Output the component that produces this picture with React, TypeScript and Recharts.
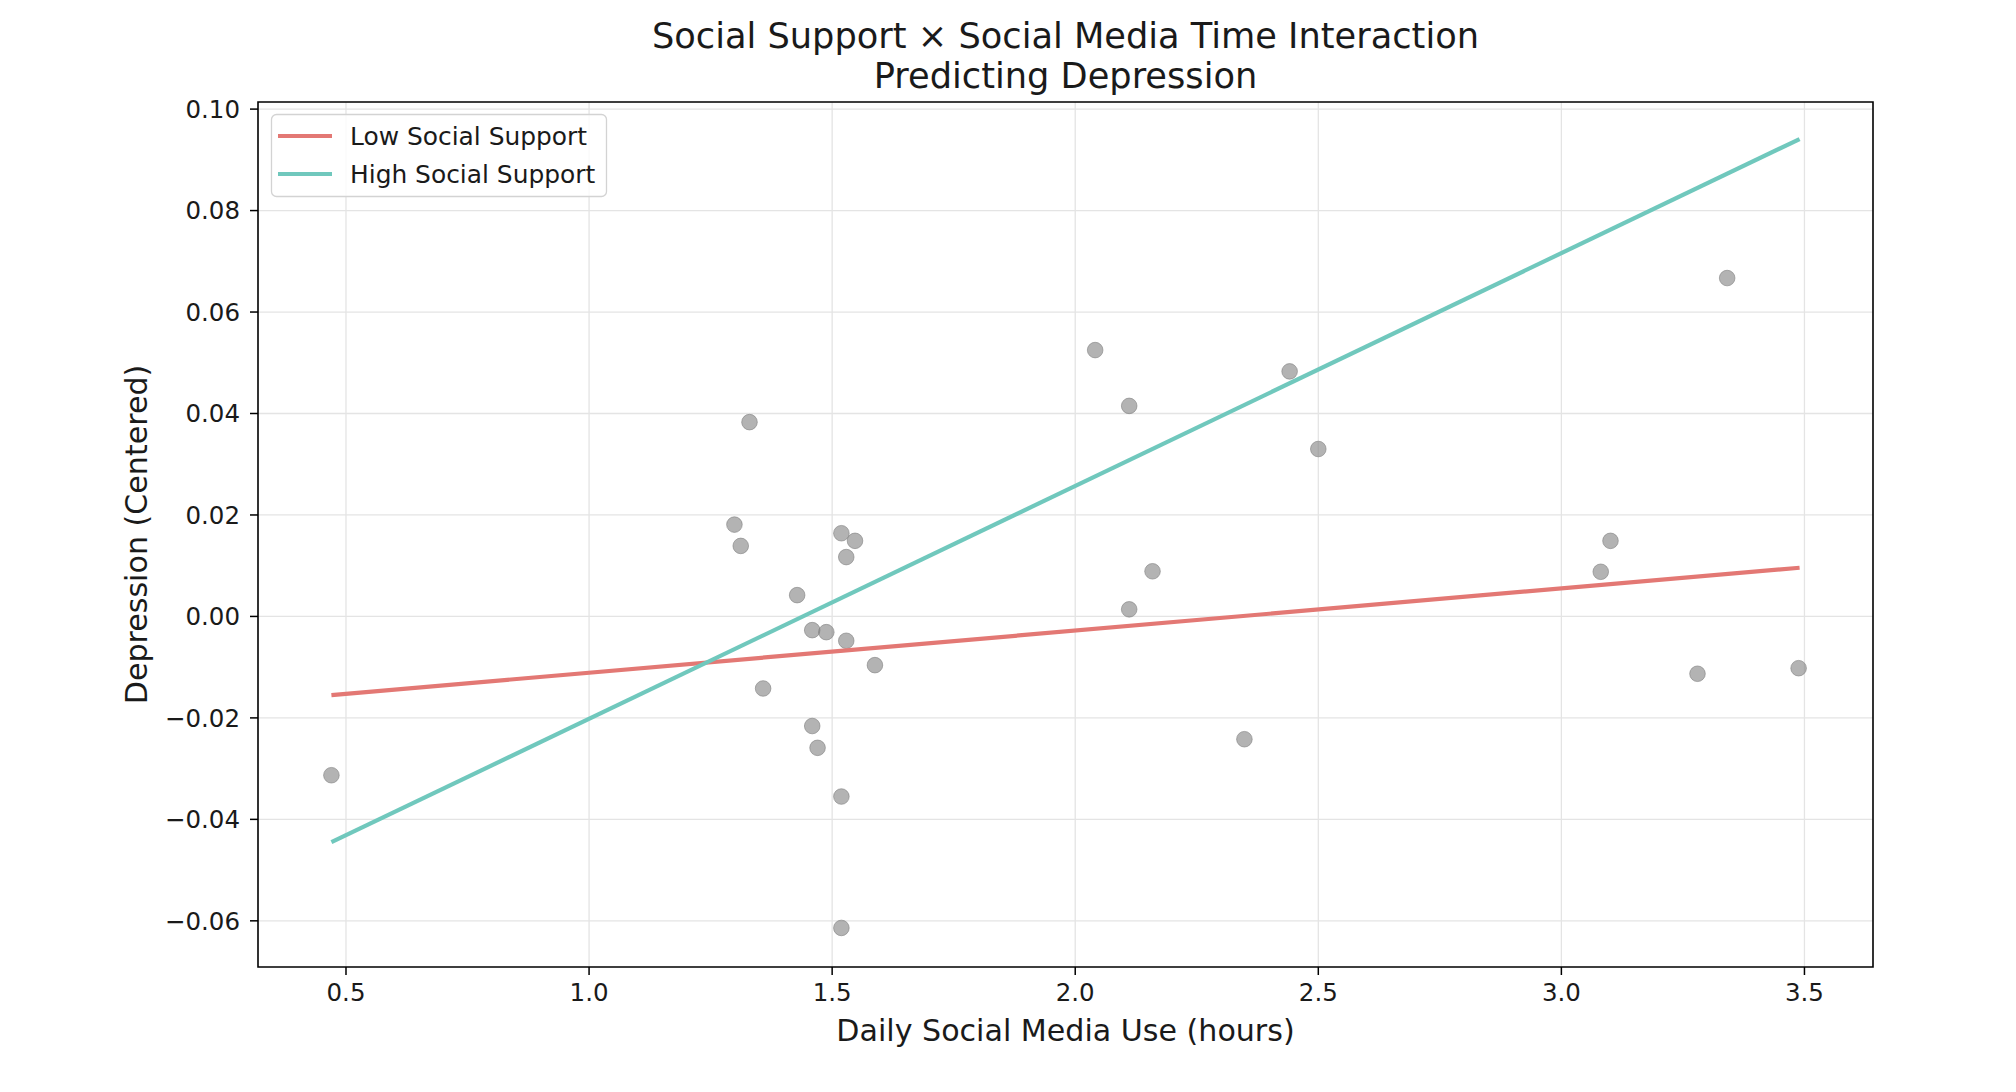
import React from 'react';
import { ScatterChart, Scatter, XAxis, YAxis, CartesianGrid, ReferenceArea } from 'recharts';

// Observed participants: daily social media hours vs centered depression score
const usageHours = [
  0.47, 1.33, 1.299, 1.312, 1.358, 1.428, 1.459, 1.488, 1.459, 1.47,
  1.519, 1.547, 1.529, 1.529, 1.588, 1.519, 1.519, 2.041, 2.111, 2.111,
  2.159, 2.348, 2.441, 2.5, 3.081, 3.101, 3.341, 3.28, 3.488,
];
const depressionScores = [
  -0.0313, 0.0383, 0.0181, 0.0139, -0.0142, 0.0042, -0.0027, -0.0031, -0.0216, -0.0259,
  0.0164, 0.0149, 0.0117, -0.0048, -0.0096, -0.0355, -0.0614, 0.0525, 0.0415, 0.0014,
  0.0089, -0.0242, 0.0483, 0.033, 0.0088, 0.0149, 0.0667, -0.0113, -0.0102,
];

// Simple-slope endpoints for the two moderator levels
const fitHours = [0.47, 3.49];
const lowSupportFit = [-0.0155, 0.0096];
const highSupportFit = [-0.0445, 0.0941];

const seriesNames = ['Low Social Support', 'High Social Support'];
const seriesColors = ['#E37874', '#70C8BD'];

const xTicks = [0.5, 1.0, 1.5, 2.0, 2.5, 3.0, 3.5];
const yTicks = [-0.06, -0.04, -0.02, 0, 0.02, 0.04, 0.06, 0.08, 0.1];
const xDomain: [number, number] = [0.319, 3.641];
const yDomain: [number, number] = [-0.0691, 0.1014];

const titleLines = ['Social Support \u00d7 Social Media Time Interaction', 'Predicting Depression'];
const xLabel = 'Daily Social Media Use (hours)';
const yLabel = 'Depression (Centered)';

const points = usageHours.map((x, i) => ({ x, y: depressionScores[i] }));
const lowLine = fitHours.map((x, i) => ({ x, y: lowSupportFit[i] }));
const highLine = fitHours.map((x, i) => ({ x, y: highSupportFit[i] }));

const FONT = "'DejaVu Sans', sans-serif";
const W = 2000;
const H = 1076;
const PLOT = { left: 250, right: 1865, top: 94, bottom: 959 };
const X_AXIS_H = 50;
const Y_AXIS_W = 100;
const TEXT = '#1a1a1a';

const fmtX = (v: number) => v.toFixed(1);
const fmtY = (v: number) => (v < -1e-9 ? '\u2212' + Math.abs(v).toFixed(2) : Math.abs(v).toFixed(2));

const Dot = (props: any) => (
  <circle
    cx={props.cx}
    cy={props.cy}
    r={7.8}
    fill="#808080"
    fillOpacity={0.6}
    stroke="#808080"
    strokeOpacity={0.6}
    strokeWidth={1}
  />
);

const NoShape = () => <g />;

export default function App() {
  const cx = (PLOT.left + PLOT.right) / 2;
  const cy = (PLOT.top + PLOT.bottom) / 2;
  return (
    <div style={{ position: 'relative', width: W, height: H, background: '#fff' }}>
      <ScatterChart
        width={W}
        height={H}
        margin={{
          top: PLOT.top,
          right: W - PLOT.right,
          bottom: H - PLOT.bottom - X_AXIS_H,
          left: PLOT.left - Y_AXIS_W,
        }}
      >
        <CartesianGrid stroke="#e4e4e4" strokeWidth={1.3} horizontalValues={yTicks} verticalValues={xTicks} />
        <XAxis
          type="number"
          dataKey="x"
          domain={xDomain}
          ticks={xTicks}
          allowDataOverflow
          height={X_AXIS_H}
          axisLine={false}
          tickLine={{ stroke: '#000', strokeWidth: 1.5 }}
          tickSize={8}
          tickMargin={9}
          tickFormatter={fmtX}
          tick={{ fill: TEXT, fontSize: 24.5, fontFamily: FONT }}
        />
        <YAxis
          type="number"
          dataKey="y"
          domain={yDomain}
          ticks={yTicks}
          allowDataOverflow
          width={Y_AXIS_W}
          axisLine={false}
          tickLine={{ stroke: '#000', strokeWidth: 1.5 }}
          tickSize={8}
          tickMargin={10}
          tickFormatter={fmtY}
          tick={{ fill: TEXT, fontSize: 24.5, fontFamily: FONT }}
        />
        <Scatter data={points} shape={Dot} isAnimationActive={false} />
        <Scatter
          data={lowLine}
          line={{ stroke: seriesColors[0], strokeWidth: 4.2 }}
          lineType="joint"
          shape={NoShape}
          isAnimationActive={false}
        />
        <Scatter
          data={highLine}
          line={{ stroke: seriesColors[1], strokeWidth: 4.2 }}
          lineType="joint"
          shape={NoShape}
          isAnimationActive={false}
        />
        <ReferenceArea
          x1={xDomain[0]}
          x2={xDomain[1]}
          y1={yDomain[0]}
          y2={yDomain[1]}
          fill="none"
          stroke="#000"
          strokeWidth={1.6}
          ifOverflow="visible"
        />
      </ScatterChart>
      <svg
        width={W}
        height={H}
        style={{ position: 'absolute', left: 0, top: 0, pointerEvents: 'none' }}
        fontFamily={FONT}
      >
        <text x={cx} y={27} textAnchor="middle" dominantBaseline="central" fontSize={35.2} fill={TEXT}>
          {titleLines[0]}
        </text>
        <text x={cx} y={67} textAnchor="middle" dominantBaseline="central" fontSize={35.2} fill={TEXT}>
          {titleLines[1]}
        </text>
        <text x={cx} y={1022} textAnchor="middle" dominantBaseline="central" fontSize={30.1} fill={TEXT}>
          {xLabel}
        </text>
        <text
          x={128}
          y={cy}
          textAnchor="middle"
          dominantBaseline="central"
          fontSize={30.1}
          fill={TEXT}
          transform={`rotate(-90 128 ${cy})`}
        >
          {yLabel}
        </text>
        <g>
          <rect
            x={263.5}
            y={106.5}
            width={335}
            height={82}
            rx={5}
            fill="#fff"
            fillOpacity={0.8}
            stroke="#d3d3d3"
            strokeWidth={1.3}
          />
          {seriesNames.map((name, i) => (
            <g key={name}>
              <line
                x1={270}
                x2={324}
                y1={128 + i * 38}
                y2={128 + i * 38}
                stroke={seriesColors[i]}
                strokeWidth={4.2}
              />
              <text x={342} y={128 + i * 38} dominantBaseline="central" fontSize={24.9} fill={TEXT}>
                {name}
              </text>
            </g>
          ))}
        </g>
      </svg>
    </div>
  );
}
